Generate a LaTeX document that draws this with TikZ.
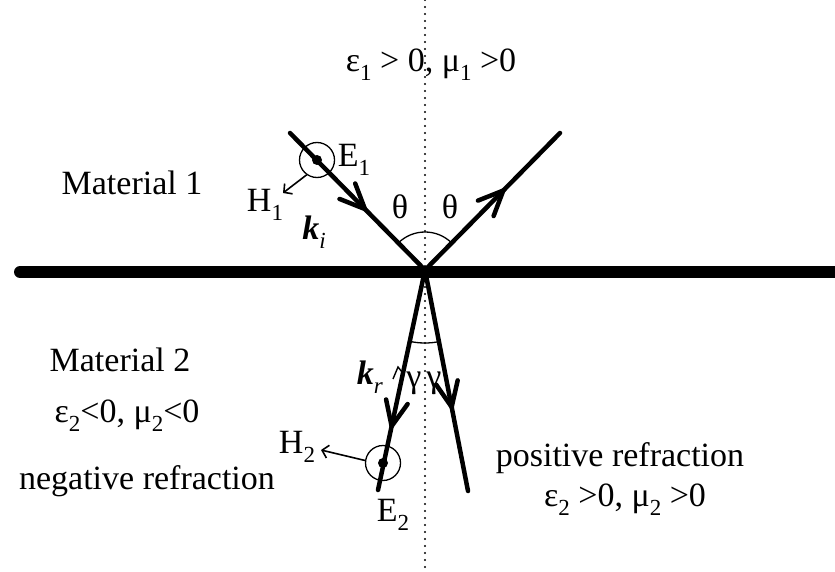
\documentclass[tikz,border=0pt]{standalone}
\usepackage{fontspec}
\setmainfont{Liberation Serif}
\usetikzlibrary{arrows.meta,decorations.markings}
\newcommand{\sbs}[1]{\raisebox{-9pt}{\fontsize{23}{26}\selectfont #1}}
\tikzset{
  ray/.style={line width=4.5pt, line cap=round},
  midarrow/.style={postaction={decorate},decoration={markings,
     mark=at position #1 with {\draw[line width=4.5pt, line cap=round, line join=miter]
        (-25pt,-11pt) -- (0pt,0pt) -- (-25pt,11pt);}}},
  thin/.style={line width=1.3pt},
  small/.style={line width=1.6pt,-{Straight Barb[length=6pt,width=13pt]}},
  lbl/.style={font=\fontsize{34}{38}\selectfont, inner sep=0pt},
}
\begin{document}
\begin{tikzpicture}[x=1pt,y=-1pt]
\useasboundingbox (0,0) rectangle (835,572);
% normal (dotted)
\coordinate (ntop) at (425,0);
\coordinate (nbot) at (425,572);
\draw[line width=2.2pt, line cap=round, dash pattern=on 0pt off 7pt] (ntop) -- (nbot);
% interface
\coordinate (L) at (20,272);
\coordinate (R) at (835,272);
\draw[line width=12pt, line cap=round] (L) -- (R);
\coordinate (O) at (425,270);
\coordinate (A) at (290,133);
\coordinate (B) at (560,133);
\coordinate (C) at (378,490);
\coordinate (D) at (468,491);
\draw[ray, midarrow=0.555] (A) -- (O);
\draw[ray, midarrow=0.58] (O) -- (B);
\draw[ray, midarrow=0.71] (O) -- (C);
\draw[ray, midarrow=0.62] (O) -- (D);
% angle arcs
\draw[thin] (O) ++(-134.6:38) arc[start angle=-134.6, end angle=-45.4, radius=38];
\draw[thin] (O) ++(102.1:73) arc[start angle=102.1, end angle=78.9, radius=73];
% field circles
\node[circle, draw, thin, minimum size=35pt, inner sep=0pt] (c1) at (317,160) {};
\fill (c1.center) circle (5pt);
\node[circle, draw, thin, minimum size=35pt, inner sep=0pt] (c2) at (383,463) {};
\fill (c2.center) circle (5pt);
\coordinate (h1) at (283,193);
\coordinate (h2) at (321,450);
\draw[small] (c1.-125) -- (h1);
\draw[small] (c2.172) -- (h2);
% small tick near k_r
\coordinate (t1) at (393,379);
\coordinate (t2) at (398,367);
\draw[line width=1.4pt] (t1) -- (t2) -- (402,372);
% labels
\node[lbl] (eps1) at (431,65) {ε\sbs{1} > 0, μ\sbs{1} >0};
\node[lbl] (m1) at (132,183) {Material 1};
\node[lbl] (H1) at (265,205) {H\sbs{1}};
\node[lbl] (E1) at (354,160) {E\sbs{1}};
\node[lbl] (ki) at (314,232) {\textbf{\textit{k}}\sbs{\textit{i}}};
\node[lbl] (th1) at (400,207) {θ};
\node[lbl] (th2) at (450,207) {θ};
\node[lbl] (m2) at (120,360) {Material 2};
\node[lbl] (eps2) at (127,416) {ε\sbs{2}<0, μ\sbs{2}<0};
\node[lbl] (neg) at (147,481) {negative refraction};
\node[lbl] (H2) at (297,447) {H\sbs{2}};
\node[lbl] (E2) at (393,515) {E\sbs{2}};
\node[lbl] (kr) at (370,377) {\textbf{\textit{k}}\sbs{\textit{r}}};
\node[lbl] (g1) at (414,383) {γ};
\node[lbl] (g2) at (434,383) {γ};
\node[lbl] (pos) at (620,458) {positive refraction};
\node[lbl] (eps3) at (625,500) {ε\sbs{2} >0, μ\sbs{2} >0};
\end{tikzpicture}
\end{document}
